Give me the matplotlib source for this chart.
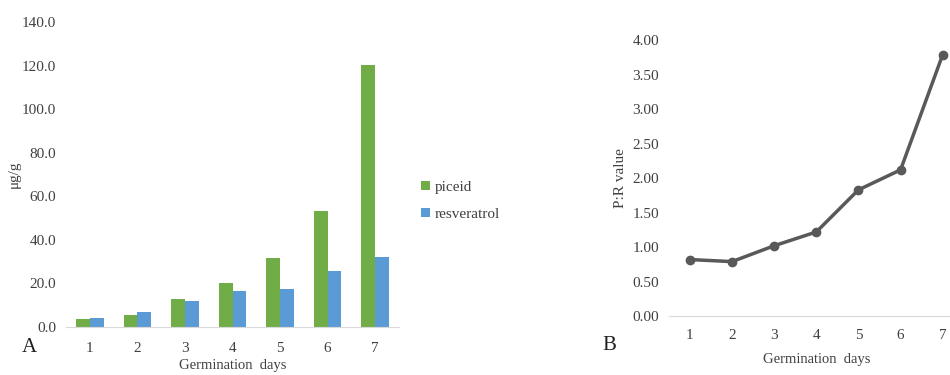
import matplotlib as mpl
mpl.use('Agg')
import matplotlib.pyplot as plt
import numpy as np

days = ['1', '2', '3', '4', '5', '6', '7']
piceid = [3.7, 5.5, 12.7, 20.0, 31.5, 53.4, 120.2]
resveratrol = [4.1, 7.0, 12.1, 16.7, 17.3, 25.7, 32.0]
pr_value = [0.82, 0.79, 1.02, 1.22, 1.83, 2.12, 3.79]

plt.rcParams['font.family'] = ['Liberation Serif', 'DejaVu Serif']
txt = '#404040'

fig = plt.figure(figsize=(9.5, 3.75), dpi=100)

# panel A
ax1 = fig.add_axes([0.0695, 0.128, 0.3505, 0.813])
x = np.arange(len(days))
w = 0.29
ax1.bar(x - w / 2, piceid, w, color='#70AD47', label='piceid')
ax1.bar(x + w / 2, resveratrol, w, color='#5B9BD5', label='resveratrol')
ax1.set_xlim(-0.5, len(days) - 0.5)
ax1.set_ylim(0, 140)
ax1.set_yticks(np.arange(0, 141, 20))
ax1.set_yticklabels(['%.1f' % v for v in np.arange(0, 141, 20)])
ax1.set_xticks(x)
ax1.set_xticklabels(days)
ax1.set_ylabel('μg/g', fontsize=11, color=txt, labelpad=1)
ax1.set_xlabel('Germination  days', fontsize=10.5, color=txt, labelpad=3)
ax1.tick_params(axis='x', pad=11)
ax1.legend(loc='center left', bbox_to_anchor=(0.4285, 0.465), bbox_transform=fig.transFigure,
           frameon=False, fontsize=11, handlelength=0.6, handleheight=0.6, handletextpad=0.3,
           labelspacing=0.9, labelcolor=txt)

# panel B
ax2 = fig.add_axes([0.704, 0.157, 0.3105, 0.736])
ax2.plot(x, pr_value, color='#595959', lw=2.5, marker='o', ms=6)
ax2.set_xlim(-0.5, len(days) - 0.5)
ax2.set_ylim(0, 4)
ax2.set_yticks(np.arange(0, 4.01, 0.5))
ax2.set_yticklabels(['%.2f' % v for v in np.arange(0, 4.01, 0.5)])
ax2.set_xticks(x)
ax2.set_xticklabels(days)
ax2.set_ylabel('P:R value', fontsize=11, color=txt, labelpad=4)
ax2.set_xlabel('Germination  days', fontsize=10.5, color=txt, labelpad=8)
ax2.tick_params(axis='x', pad=9)

for ax in (ax1, ax2):
    for s in ('top', 'right', 'left'):
        ax.spines[s].set_visible(False)
    ax.spines['bottom'].set_color('#D9D9D9')
    ax.tick_params(length=0, labelsize=11, labelcolor=txt)
    ax.tick_params(axis='y', pad=7)

fig.text(22 / 950, 1 - 348 / 375, 'A', fontsize=15, color='#202020', va='center', ha='left')
fig.text(602 / 950, 1 - 345 / 375, 'B', fontsize=15, color='#202020', va='center', ha='left')

fig.savefig('out.png', dpi=100)
